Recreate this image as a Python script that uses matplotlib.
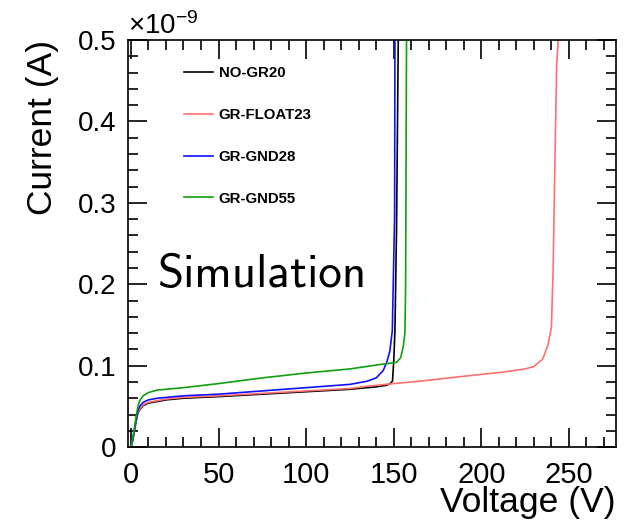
import matplotlib
matplotlib.use("Agg")
import matplotlib.pyplot as plt
from matplotlib.ticker import MultipleLocator, FuncFormatter

plt.rcParams['font.family'] = ['Liberation Sans', 'DejaVu Sans']
plt.rcParams['mathtext.fontset'] = 'custom'
plt.rcParams['mathtext.rm'] = 'Liberation Sans'
plt.rcParams['mathtext.it'] = 'Liberation Sans:italic'

# I-V curves, current in units of 1e-9 A
v_nogr = [0, 1, 2, 3, 4, 5, 7, 10, 15, 20, 30, 50, 75, 100, 125, 140, 146, 148, 149.3, 150, 150.7, 151.6, 152.6]
i_nogr = [0, 0.008, 0.02, 0.032, 0.042, 0.046, 0.051, 0.054, 0.056, 0.058, 0.06, 0.062, 0.065, 0.068, 0.071, 0.074, 0.076, 0.078, 0.081, 0.105, 0.143, 0.267, 0.5]

v_float = [0, 1, 2, 3, 4, 5, 7, 10, 15, 20, 30, 50, 75, 100, 125, 136, 150, 165, 190, 212, 225, 230, 235, 238, 240, 241, 242, 243, 243.9]
i_float = [0, 0.008, 0.02, 0.033, 0.043, 0.047, 0.052, 0.055, 0.057, 0.059, 0.061, 0.063, 0.066, 0.069, 0.072, 0.075, 0.078, 0.081, 0.087, 0.092, 0.096, 0.099, 0.108, 0.125, 0.147, 0.22, 0.35, 0.47, 0.5]

v_gnd28 = [0, 1, 2, 3, 4, 5, 7, 10, 15, 20, 30, 50, 75, 100, 125, 135, 140, 144, 146, 147.8, 149.2, 150.5, 150.7]
i_gnd28 = [0, 0.008, 0.021, 0.034, 0.045, 0.05, 0.055, 0.058, 0.06, 0.061, 0.063, 0.065, 0.069, 0.073, 0.077, 0.081, 0.085, 0.094, 0.104, 0.118, 0.143, 0.283, 0.5]

v_gnd55 = [0, 1, 2, 3, 4, 5, 7, 10, 15, 20, 30, 50, 75, 100, 125, 144, 151.6, 154, 155.4, 156.4, 156.8, 157.3]
i_gnd55 = [0, 0.01, 0.024, 0.038, 0.05, 0.057, 0.063, 0.067, 0.07, 0.071, 0.073, 0.078, 0.085, 0.091, 0.096, 0.102, 0.104, 0.11, 0.123, 0.14, 0.2, 0.5]

fig = plt.figure(figsize=(6.24, 5.26), dpi=100)
ax = fig.add_axes([0.205, 0.150, 0.782, 0.774])

ax.plot(v_nogr, i_nogr, color="black", lw=1.2, label="NO-GR20")
ax.plot(v_float, i_float, color="#ff7070", lw=1.2, label="GR-FLOAT23")
ax.plot(v_gnd28, i_gnd28, color="#1010ff", lw=1.2, label="GR-GND28")
ax.plot(v_gnd55, i_gnd55, color="#10a010", lw=1.2, label="GR-GND55")

ax.set_xlim(-1.7, 276.8)
ax.set_ylim(0, 0.5)
ax.xaxis.set_major_locator(MultipleLocator(50))
ax.xaxis.set_minor_locator(MultipleLocator(10))
ax.yaxis.set_major_locator(MultipleLocator(0.1))
ax.yaxis.set_minor_locator(MultipleLocator(0.02))
ax.yaxis.set_major_formatter(FuncFormatter(lambda v, p: "%g" % round(v, 3)))
ax.tick_params(which="both", direction="in", top=True, right=True, width=1.2)
ax.tick_params(which="major", length=14)
ax.tick_params(which="minor", length=7)
ax.tick_params(axis="y", labelsize=20, pad=8)
ax.tick_params(axis="x", labelsize=21, pad=10)
for s in ax.spines.values():
    s.set_linewidth(1.2)

ax.set_xlabel("Voltage (V)", fontsize=25.5, loc="right", labelpad=-2)
ax.set_ylabel("Current (A)", fontsize=25.5, loc="top", labelpad=14)
ax.text(0.0, 1.0, r"$\times\mathregular{10^{-9}}$", transform=ax.transAxes,
        fontsize=20, ha="left", va="bottom")
ax.text(0.0615, 0.393, "Simulation", transform=ax.transAxes, fontsize=34,
        family="cmss10", ha="left", va="baseline")

leg = ax.legend(loc="upper left", bbox_to_anchor=(0.115, 0.935), frameon=False,
                prop={"weight": "bold", "size": 10.8}, handlelength=1.9,
                handletextpad=0.4, labelspacing=1.85, borderpad=0, borderaxespad=0)

fig.savefig("out.png", dpi=100)
